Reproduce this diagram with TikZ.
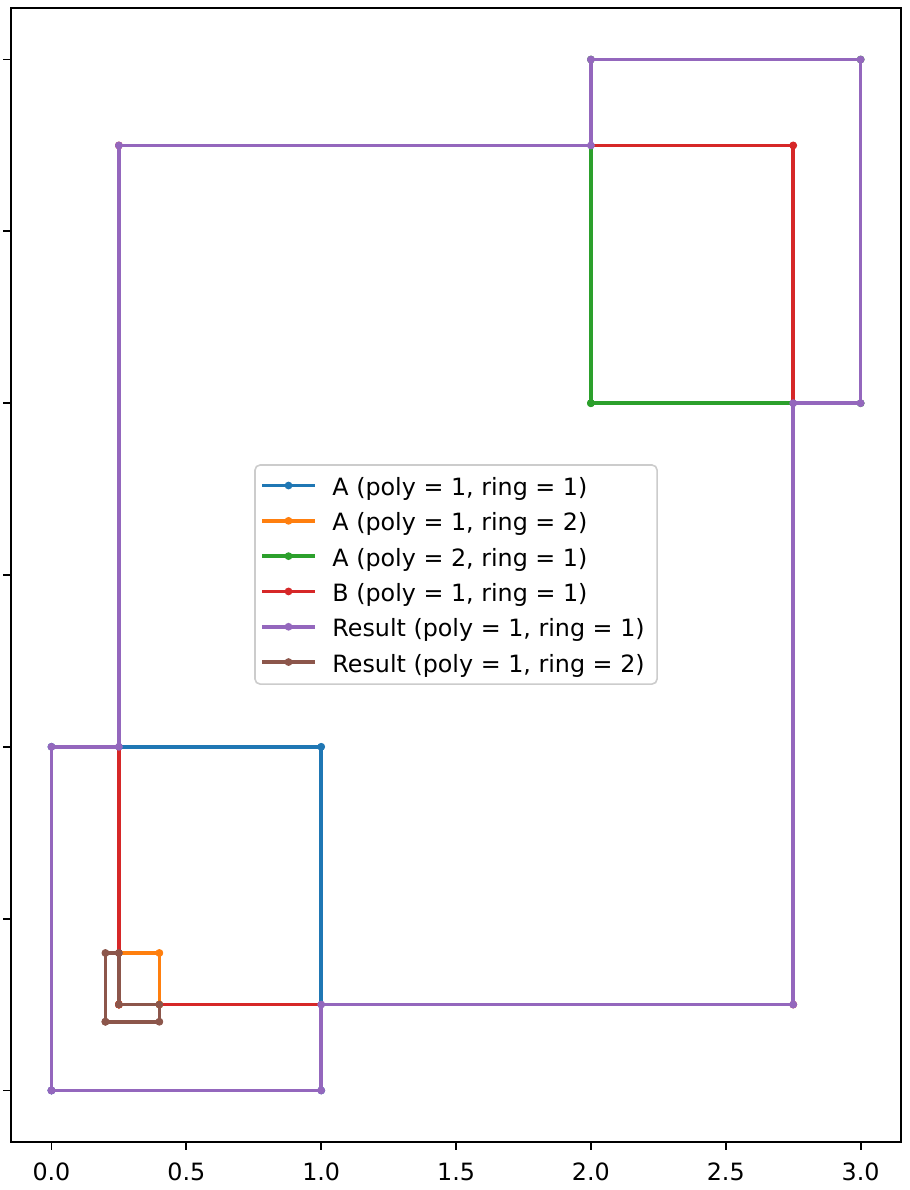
\documentclass[tikz,border=0pt]{standalone}
\usepackage{fontspec}
\setmainfont{DejaVu Sans}
\definecolor{cblue}{HTML}{1F77B4}
\definecolor{corange}{HTML}{FF7F0E}
\definecolor{cgreen}{HTML}{2CA02C}
\definecolor{cred}{HTML}{D62728}
\definecolor{cpurple}{HTML}{9467BD}
\definecolor{cbrown}{HTML}{8C564B}
\begin{document}
\begin{tikzpicture}[x=134.85pt,y=171.8pt,
  series/.style={line width=1.8pt, line join=round, line cap=rect, mark=*, mark size=1.75pt, mark options={line width=0.4pt}},
  lbl/.style={font=\fontsize{11.9}{14}\selectfont, inner sep=0pt},
  tick/.style={line width=0.9pt, line cap=butt},
  frame/.style={line width=0.9pt, line cap=rect}]
\useasboundingbox (-0.1908,-0.2897) rectangle (3.1797,3.1733);
% data
\draw[series,cblue] plot coordinates {(0,0) (0,1) (1,1) (1,0) (0,0)};
\draw[series,corange] plot coordinates {(0.25,0.25) (0.25,0.4) (0.4,0.4) (0.4,0.25) (0.25,0.25)};
\draw[series,cgreen] plot coordinates {(2,2) (2,3) (3,3) (3,2) (2,2)};
\draw[series,cred] plot coordinates {(0.25,0.25) (0.25,2.75) (2.75,2.75) (2.75,0.25) (0.25,0.25)};
\draw[series,cpurple] plot coordinates {(0,0) (0,1) (0.25,1) (0.25,2.75) (2,2.75) (2,3) (3,3) (3,2) (2.75,2) (2.75,0.25) (1,0.25) (1,0) (0,0)};
\draw[series,cbrown] plot coordinates {(0.2,0.2) (0.2,0.4) (0.25,0.4) (0.25,0.25) (0.4,0.25) (0.4,0.2) (0.2,0.2)};
% frame
\draw[frame] (-0.15,-0.15) rectangle (3.15,3.15);
% x ticks
\foreach \v/\t in {0/0.0,0.5/0.5,1/1.0,1.5/1.5,2/2.0,2.5/2.5,3/3.0}{
  \draw[tick] (\v,-0.15) -- ++(0,-4pt);
  \node[lbl,anchor=base] (xt\v) at ([yshift=-19.5pt]\v,-0.15) {\t};
}
% y ticks
\foreach \v in {0,0.5,1,1.5,2,2.5,3}{
  \draw[tick] (-0.15,\v) -- ++(-4pt,0);
}
% legend (pixel coordinates)
\begin{scope}[shift={(-0.1908,3.1733)}, x=0.5pt, y=-0.5pt]
  \draw[black!20, fill=white, line width=0.8pt, rounded corners=2.5pt] (255,465) rectangle (657,684);
  \foreach \c/\t [count=\i from 0] in {cblue/{A (poly = 1, ring = 1)},corange/{A (poly = 1, ring = 2)},cgreen/{A (poly = 2, ring = 1)},cred/{B (poly = 1, ring = 1)},cpurple/{Result (poly = 1, ring = 1)},cbrown/{Result (poly = 1, ring = 2)}}{
    \pgfmathsetmacro\yy{485.5+35.3*\i}
    \draw[\c, line width=1.8pt, line cap=rect] (264,\yy) -- (313,\yy);
    \fill[\c] (288.5,\yy) circle (1.95pt);
    \node[lbl,anchor=base west] (leg\i) at (332,\yy+10) {\t};
  }
\end{scope}
\end{tikzpicture}
\end{document}
